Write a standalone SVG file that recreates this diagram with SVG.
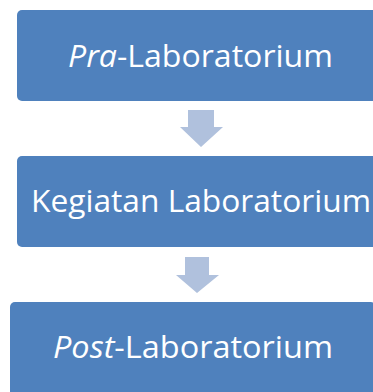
<svg xmlns="http://www.w3.org/2000/svg" width="373" height="392" viewBox="0 0 373 392">
<style>
.box{fill:#4F81BD}
.arrow{fill:#B0C1DD}
.lbl{font-family:"Open Sans","Liberation Sans",sans-serif;font-size:31px;fill:#FFFFFF}
.it{font-style:italic}
</style>
<rect width="373" height="392" fill="#FFFFFF"/>
<g id="connectors">
<path class="arrow" d="M188,110 H214 V127 H223 L201,147 L180,127 H188 Z"/>
<path class="arrow" d="M185,257 H209 V275 H219 L197,293 L176,275 H185 Z"/>
</g>
<g id="node1">
<rect class="box" x="17" y="10" width="366" height="91" rx="5"/>
<text class="lbl" x="68" y="67" textLength="265" lengthAdjust="spacingAndGlyphs"><tspan class="it">Pra</tspan>-Laboratorium</text>
</g>
<g id="node2">
<rect class="box" x="17" y="156" width="366" height="91" rx="5"/>
<text class="lbl" x="31" y="212" textLength="340" lengthAdjust="spacingAndGlyphs">Kegiatan Laboratorium</text>
</g>
<g id="node3">
<rect class="box" x="10" y="302" width="366" height="100" rx="5"/>
<text class="lbl" x="53" y="358" textLength="280" lengthAdjust="spacingAndGlyphs"><tspan class="it">Post</tspan>-Laboratorium</text>
</g>
</svg>
